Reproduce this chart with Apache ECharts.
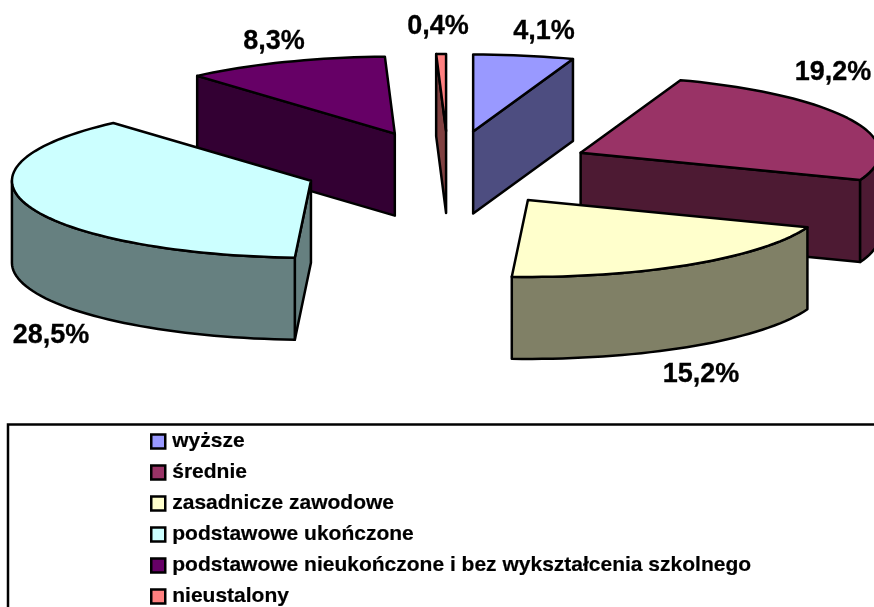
<!DOCTYPE html>
<html>
<head>
<meta charset="utf-8">
<style>
  html, body { margin: 0; padding: 0; background: #fff; }
  #main { width: 874px; height: 607px; }
</style>
<script src="https://cdn.jsdelivr.net/npm/echarts@6/dist/echarts.min.js"></script>
</head>
<body>
<div id="main"></div>
<script>
var categories = ['wyższe', 'średnie', 'zasadnicze zawodowe', 'podstawowe ukończone',
  'podstawowe nieukończone i bez wykształcenia szkolnego', 'nieustalony'];
var shares = [4.1, 19.2, 15.2, 28.5, 8.3, 0.4];
var topColors = ['#9999FF', '#993366', '#FFFFCC', '#CCFFFF', '#660066', '#FF8080'];
var sideColors = ['#4D4D80', '#4D1A33', '#808066', '#668080', '#330033', '#804040'];

// pie geometry, px
var cx = 448.5, cy = 168.5, rx = 299, ry = 77, depth = 82, explode = 0.487;
// label centres, px
var labelSpots = [[544, 32], [833, 73], [701, 375], [51, 336], [274, 42], [438, 27]];
// painting order, back to front
var order = [5, 0, 4, 1, 3, 2];

var total = shares.reduce(function (a, b) { return a + b; }, 0);

function rad(d) { return d * Math.PI / 180; }

var myChart = echarts.init(document.getElementById('main'));

function renderSlice(i) {
  return function (params, api) {
    var before = 0;
    for (var k = 0; k < i; k++) before += shares[k];
    var a0 = before / total * 360;
    var a1 = a0 + api.value(0) / total * 360;
    var mid = (a0 + a1) / 2;
    var ox = cx + explode * rx * Math.sin(rad(mid));
    var oy = cy - explode * ry * Math.cos(rad(mid));
    var pt = function (a, dz) {
      return [ox + rx * Math.sin(rad(a)), oy - ry * Math.cos(rad(a)) + (dz || 0)];
    };
    var arc = function (from, to, dz) {
      var pts = [];
      var n = Math.max(2, Math.ceil(Math.abs(to - from) / 2));
      for (var s = 0; s <= n; s++) pts.push(pt(from + (to - from) * s / n, dz));
      return pts;
    };
    var edge = { stroke: '#000', lineWidth: 2.5, lineJoin: 'round' };
    var side = function (points) {
      return {
        type: 'polygon',
        shape: { points: points },
        style: Object.assign({ fill: sideColors[i] }, edge)
      };
    };
    var children = [];
    var base = [ox, oy], baseLow = [ox, oy + depth];
    // cut faces, only the ones turned towards the viewer
    if (Math.cos(rad(a0 - 90)) < 0) {
      children.push(side([base, pt(a0), pt(a0, depth), baseLow]));
    }
    if (Math.cos(rad(a1 + 90)) < 0) {
      children.push(side([base, pt(a1), pt(a1, depth), baseLow]));
    }
    // outer wall, front half of the rim
    var w0 = Math.max(a0, 90), w1 = Math.min(a1, 270);
    if (w1 > w0) {
      children.push(side(arc(w0, w1).concat(arc(w1, w0, depth))));
    }
    // top
    children.push({
      type: 'polygon',
      shape: { points: [base].concat(arc(a0, a1)) },
      style: Object.assign({ fill: topColors[i] }, edge)
    });
    // percent label
    children.push({
      type: 'text',
      x: labelSpots[i][0],
      y: labelSpots[i][1],
      style: {
        text: api.value(0).toFixed(1).replace('.', ',') + '%',
        fill: '#000',
        stroke: '#000',
        lineWidth: 0.3,
        font: 'bold 27px "Liberation Sans", Arial, sans-serif',
        align: 'center',
        verticalAlign: 'middle'
      }
    });
    return { type: 'group', children: children };
  };
}

var series = categories.map(function (name, i) {
  return {
    name: name,
    type: 'custom',
    coordinateSystem: 'none',
    z: 2 + order.indexOf(i),
    clip: false,
    silent: true,
    animation: false,
    itemStyle: { color: topColors[i] },
    renderItem: renderSlice(i),
    data: [[shares[i]]]
  };
});

var option = {
  backgroundColor: '#fff',
  animation: false,
  graphic: [{
    type: 'rect',
    z: 1,
    shape: { x: 8, y: 424.5, width: 900, height: 220 },
    style: { fill: '#fff', stroke: '#000', lineWidth: 2.5 }
  }],
  legend: {
    orient: 'vertical',
    left: 150,
    top: 431,
    height: 300,
    padding: 0,
    data: categories,
    icon: 'rect',
    itemWidth: 14,
    itemHeight: 14,
    itemGap: 9.8,
    align: 'left',
    selectedMode: false,
    itemStyle: { borderColor: '#000', borderWidth: 2.5 },
    textStyle: {
      color: '#000',
      fontFamily: '"Liberation Sans", Arial, sans-serif',
      fontWeight: 'bold',
      fontSize: 21,
      lineHeight: 21,
      padding: [0, 0, 0, 2],
      textBorderColor: '#000',
      textBorderWidth: 0.2
    }
  },
  series: series
};
myChart.setOption(option);
</script>
</body>
</html>
